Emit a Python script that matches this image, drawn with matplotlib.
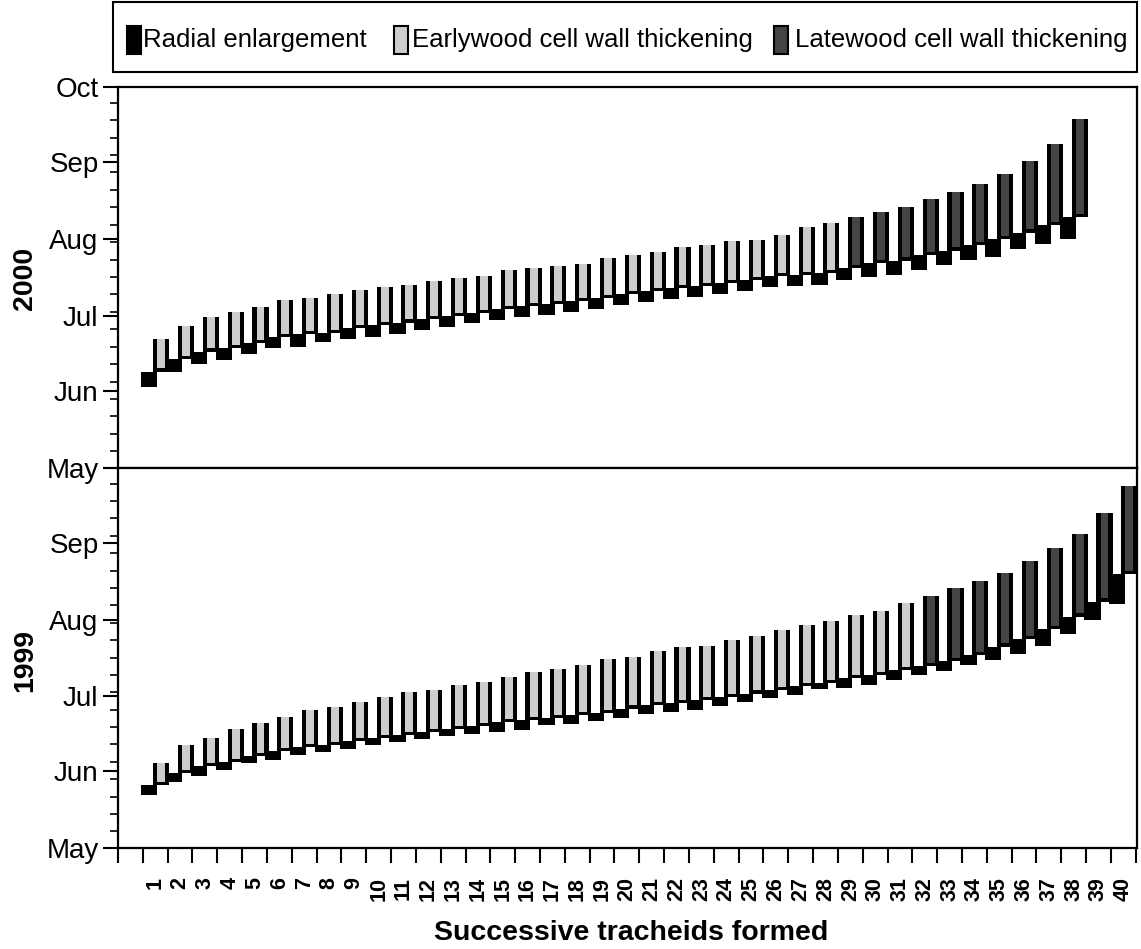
import numpy as np
import matplotlib
matplotlib.use("Agg")
import matplotlib.pyplot as plt
from matplotlib.patches import Rectangle

plt.rcParams['font.family'] = ['Liberation Sans', 'DejaVu Sans']

# ---------------- data (days since 1 May) ----------------
tracheids_2000 = list(range(1, 39))
tracheids_1999 = list(range(1, 41))
x_tick_labels = [str(i) for i in range(1, 41)]
month_labels = ['May', 'Jun', 'Jul', 'Aug', 'Sep', 'Oct']
month_starts = [0, 31, 61, 92, 123, 153]
n_earlywood_2000 = 28
n_earlywood_1999 = 31

enl_start_2000 = [32.7, 38.7, 41.8, 43.4, 45.7, 48.1, 48.7, 50.7, 51.8, 52.7,
                  53.8, 55.4, 56.6, 58.2, 59.4, 60.6, 61.4, 62.7, 63.9, 65.5,
                  66.7, 67.9, 68.7, 69.9, 71.1, 72.7, 73.1, 73.5, 75.5, 76.7,
                  77.5, 79.5, 81.5, 83.5, 84.9, 87.8, 90.0, 91.8]
wall_start_2000 = [38.7, 43.7, 46.7, 48.1, 50.3, 52.5, 53.8, 54.3, 56.2, 57.4,
                   58.4, 59.8, 61.0, 62.2, 63.9, 65.1, 65.9, 67.1, 68.3, 69.9,
                   71.1, 72.3, 73.1, 74.3, 75.5, 77.1, 77.5, 78.3, 80.3, 82.3,
                   83.3, 85.5, 87.3, 89.6, 91.8, 94.5, 97.6, 100.7]
wall_end_2000 = [51.7, 57.0, 60.8, 62.8, 64.7, 67.5, 68.3, 69.9, 71.5, 72.7,
                 73.5, 75.1, 76.3, 77.1, 79.5, 80.3, 81.1, 81.9, 84.3, 85.5,
                 86.7, 88.8, 89.6, 91.2, 91.6, 93.6, 96.9, 98.5, 100.9, 102.9,
                 104.9, 108.0, 111.0, 113.9, 118.1, 123.3, 130.1, 140.0]

enl_start_1999 = [21.3, 26.6, 28.9, 31.6, 34.1, 35.3, 37.3, 38.6, 39.8, 41.4,
                  42.6, 43.8, 45.0, 45.8, 46.9, 47.4, 49.7, 50.1, 51.1, 52.5,
                  53.8, 54.7, 55.4, 57.0, 58.6, 60.2, 61.8, 63.9, 64.3, 65.5,
                  67.5, 69.5, 71.2, 73.5, 75.5, 78.2, 81.5, 86.2, 91.6, 98.3]
wall_start_1999 = [25.3, 30.2, 32.9, 34.7, 36.9, 39.1, 40.6, 41.4, 43.0, 44.2,
                   45.4, 46.6, 47.8, 49.0, 50.7, 51.4, 52.3, 53.4, 54.3, 56.1,
                   57.4, 58.4, 59.4, 60.6, 62.2, 63.5, 65.1, 66.3, 68.3, 69.5,
                   71.5, 73.1, 75.2, 77.8, 81.1, 84.1, 88.2, 93.2, 99.2, 110.4]
wall_end_1999 = [34.3, 41.6, 44.3, 48.1, 50.3, 52.7, 55.4, 56.6, 58.6, 60.6,
                 62.7, 63.5, 65.5, 66.7, 68.8, 70.8, 72.2, 73.8, 75.9, 77.1,
                 79.2, 80.8, 81.5, 83.9, 85.5, 87.6, 89.6, 91.3, 93.9, 95.6,
                 98.5, 101.6, 104.5, 107.6, 110.6, 115.7, 120.6, 126.4, 134.7, 145.8]

EARLY = '#cdcdcd'
LATE = '#444444'

W, H = 1141, 949
fig = plt.figure(figsize=(W / 100, H / 100), dpi=100)

left, right = 118 / W, 1137 / W
ax_top = fig.add_axes([left, 1 - 468 / H, right - left, (468 - 87) / H])
ax_bot = fig.add_axes([left, 1 - 848 / H, right - left, (848 - 468) / H])


def draw_panel(ax, trach, es, ws, we, n_early):
    x = np.array(trach, dtype=float)
    es, ws, we = np.array(es), np.array(ws), np.array(we)
    # radial enlargement
    ax.bar(x - 0.24, ws - es, bottom=es, width=0.65, color='black', zorder=3)
    # wall thickening: black frame + stippled fill
    ax.bar(x + 0.24, we - ws, bottom=ws, width=0.65, color='black', zorder=2)
    fills = [EARLY if t <= n_early else LATE for t in trach]
    ax.bar(x + 0.24, we - ws - 1.3, bottom=ws + 1.3, width=0.32,
           color=fills, zorder=4)


draw_panel(ax_top, tracheids_2000, enl_start_2000, wall_start_2000,
           wall_end_2000, n_earlywood_2000)
draw_panel(ax_bot, tracheids_1999, enl_start_1999, wall_start_1999,
           wall_end_1999, n_earlywood_1999)

for ax in (ax_top, ax_bot):
    ax.set_xlim(-0.5, 40.55)
    ax.set_ylim(0, 153)
    ax.set_yticks(month_starts)
    ax.set_yticks(np.arange(6.7, 153, 7), minor=True)
    ax.tick_params(axis='y', which='major', direction='out', length=11,
                   width=1.5, labelsize=20, pad=3)
    ax.tick_params(axis='y', which='minor', direction='out', length=6,
                   width=1.2)
    for s in ax.spines.values():
        s.set_linewidth(1.6)

ax_top.set_yticklabels(month_labels)
ax_bot.set_yticklabels(month_labels[:-1] + [''])
ax_top.tick_params(axis='x', which='both', bottom=False, labelbottom=False)

# x axis: labels at tracheid centres (major, no mark), marks at boundaries (minor)
ax_bot.set_xticks(np.arange(1, 41))
ax_bot.set_xticklabels(x_tick_labels, rotation=90, fontweight='bold',
                       fontsize=15.5, va='top', ha='center')
ax_bot.set_xticks(np.arange(-0.5, 41, 1.0), minor=True)
ax_bot.tick_params(axis='x', which='major', length=0, pad=21)
ax_bot.tick_params(axis='x', which='minor', direction='out', length=11,
                   width=1.5)

fig.text(25 / W, 1 - 278 / H, '2000', rotation=90, ha='center', va='center',
         fontsize=20.5, fontweight='bold')
fig.text(25 / W, 1 - 660 / H, '1999', rotation=90, ha='center', va='center',
         fontsize=20.5, fontweight='bold')
fig.text(631 / W, 1 - 933 / H, 'Successive tracheids formed', ha='center',
         va='center', fontsize=20.5, fontweight='bold')

# legend
fig.patches.append(Rectangle((113 / W, 1 - 72 / H), (1137 - 113) / W, 70 / H,
                             transform=fig.transFigure, fill=False,
                             edgecolor='black', linewidth=1.5))
legend_items = [
    ('Radial enlargement', 127, 143, 'black'),
    ('Earlywood cell wall thickening', 394, 412, EARLY),
    ('Latewood cell wall thickening', 774, 795, LATE),
]
for label, px, tx, col in legend_items:
    fig.patches.append(Rectangle((px / W, 1 - 54 / H), 14 / W, 28 / H,
                                 transform=fig.transFigure, facecolor=col,
                                 edgecolor='black', linewidth=1.5))
    fig.text(tx / W, 1 - 40 / H, label, ha='left', va='center', fontsize=18.5)

fig.savefig('out.png', dpi=100)
